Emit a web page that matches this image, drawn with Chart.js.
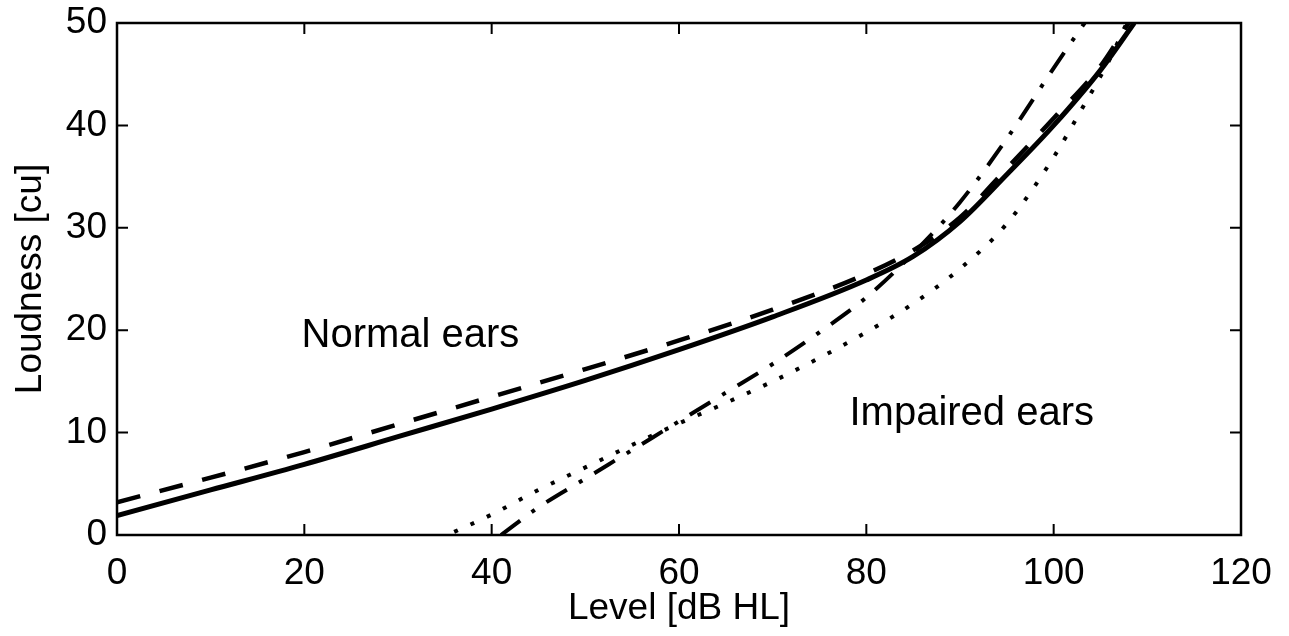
<!DOCTYPE html>
<html>
<head>
<meta charset="utf-8">
<title>Loudness growth</title>
<script src="https://cdn.jsdelivr.net/npm/chart.js@4.4.0/dist/chart.umd.min.js"></script>
<style>
  html, body { margin: 0; padding: 0; background: #fff; }
  #wrap { width: 1289px; height: 636px; }
</style>
</head>
<body>
<div id="wrap"><canvas id="loudnessChart" width="1289" height="636"></canvas></div>
<script>
// Loudness functions: level in dB HL, loudness in categorical units
const normalSolidLevel = [0, 10, 20, 30, 40, 50, 60, 70, 80, 85, 90, 95, 100, 105, 108.6];
const normalSolidLoud  = [1.9, 4.4, 6.9, 9.6, 12.3, 15.1, 18.1, 21.3, 24.9, 27.2, 30.6, 35.2, 40, 45.4, 50];

const normalDashLevel = [0, 10, 20, 30, 40, 50, 60, 70, 80, 85, 90, 95, 100, 105, 108];
const normalDashLoud  = [3.2, 5.6, 8.1, 10.8, 13.5, 16.2, 19.0, 22.0, 25.5, 27.8, 31.0, 35.8, 40.7, 45.8, 50];

const impairedDotLevel = [36, 40, 45, 50, 55, 60, 65, 70, 75, 80, 85, 90, 95, 100, 103, 106, 107.8];
const impairedDotLoud  = [0.3, 2.0, 4.4, 6.6, 8.8, 10.9, 12.9, 15.0, 17.3, 19.8, 22.6, 26.0, 30.4, 36.9, 41.6, 46.5, 50];

const impairedDashDotLevel = [41, 45, 50, 55, 60, 65, 70, 75, 80, 85, 90, 95, 100, 103.3];
const impairedDashDotLoud  = [0, 2.7, 5.5, 8.3, 11.1, 13.9, 16.7, 19.8, 23.2, 27.5, 32.5, 38.7, 45.6, 50];

const xTickStep = 20;
const yTickStep = 10;

const noteTexts = ['Normal ears', 'Impaired ears'];
const noteLevels = [19.7, 78.2];
const noteLouds = [18.4, 10.7];

const FONT = '"Liberation Sans", Arial, Helvetica, sans-serif';
const TICK_LEN = 11;

function toPoints(xs, ys) {
    return xs.map((x, i) => ({ x, y: ys[i] }));
}

function curve(xs, ys, width, dash) {
    return {
        data: toPoints(xs, ys),
        borderColor: '#000',
        borderWidth: width,
        borderDash: dash,
        borderCapStyle: 'butt',
        pointRadius: 0,
        fill: false,
        cubicInterpolationMode: 'monotone',
    };
}

// box round the plot with inward ticks on every side, plus the text notes
const axesFrame = {
    id: 'axesFrame',
    afterDraw(chart) {
        const { ctx, chartArea: a, scales: { x, y } } = chart;
        ctx.save();
        ctx.strokeStyle = '#000';
        ctx.lineWidth = 2.5;
        ctx.strokeRect(a.left, a.top, a.right - a.left, a.bottom - a.top);

        ctx.beginPath();
        x.ticks.forEach(t => {
            const px = x.getPixelForValue(t.value);
            ctx.moveTo(px, a.bottom); ctx.lineTo(px, a.bottom - TICK_LEN);
            ctx.moveTo(px, a.top); ctx.lineTo(px, a.top + TICK_LEN);
        });
        y.ticks.forEach(t => {
            const py = y.getPixelForValue(t.value);
            ctx.moveTo(a.left, py); ctx.lineTo(a.left + TICK_LEN, py);
            ctx.moveTo(a.right, py); ctx.lineTo(a.right - TICK_LEN, py);
        });
        ctx.lineWidth = 2;
        ctx.stroke();

        ctx.font = '40px ' + FONT;
        ctx.fillStyle = '#000';
        ctx.textAlign = 'left';
        ctx.textBaseline = 'alphabetic';
        noteTexts.forEach((txt, i) => {
            ctx.fillText(txt, x.getPixelForValue(noteLevels[i]), y.getPixelForValue(noteLouds[i]));
        });
        ctx.restore();
    }
};

const ctx = document.getElementById('loudnessChart').getContext('2d');

new Chart(ctx, {
    type: 'line',
    data: {
        datasets: [
            curve(impairedDotLevel, impairedDotLoud, 4, [4, 14]),
            curve(impairedDashDotLevel, impairedDashDotLoud, 4, [24, 14, 4, 14]),
            curve(normalDashLevel, normalDashLoud, 4.5, [24, 20]),
            curve(normalSolidLevel, normalSolidLoud, 5, []),
        ],
    },
    options: {
        responsive: false,
        animation: false,
        layout: { padding: { top: 23, right: 48, left: 0, bottom: 0 } },
        plugins: {
            legend: { display: false },
            tooltip: { enabled: false },
        },
        scales: {
            x: {
                type: 'linear',
                min: 0,
                max: 120,
                ticks: {
                    stepSize: xTickStep,
                    color: '#000',
                    padding: 17,
                    maxRotation: 0,
                    font: { family: FONT, size: 37 },
                },
                grid: { display: false, drawTicks: false },
                border: { display: false },
                title: {
                    display: true,
                    text: 'Level [dB HL]',
                    color: '#000',
                    font: { family: FONT, size: 37 },
                    padding: { top: 0, bottom: 5 },
                },
                afterFit(scale) {
                    scale.height = 101;
                    scale.paddingLeft = 0;
                    scale.paddingRight = 0;
                },
            },
            y: {
                type: 'linear',
                min: 0,
                max: 50,
                ticks: {
                    stepSize: yTickStep,
                    color: '#000',
                    padding: 10,
                    font: { family: FONT, size: 37 },
                },
                grid: { display: false, drawTicks: false },
                border: { display: false },
                title: {
                    display: true,
                    text: 'Loudness [cu]',
                    color: '#000',
                    font: { family: FONT, size: 37 },
                    padding: { top: 9, bottom: 0 },
                },
                afterFit(scale) {
                    scale.width = 117;
                    scale.paddingTop = 0;
                    scale.paddingBottom = 0;
                },
            },
        },
    },
    plugins: [axesFrame],
});
</script>
</body>
</html>
